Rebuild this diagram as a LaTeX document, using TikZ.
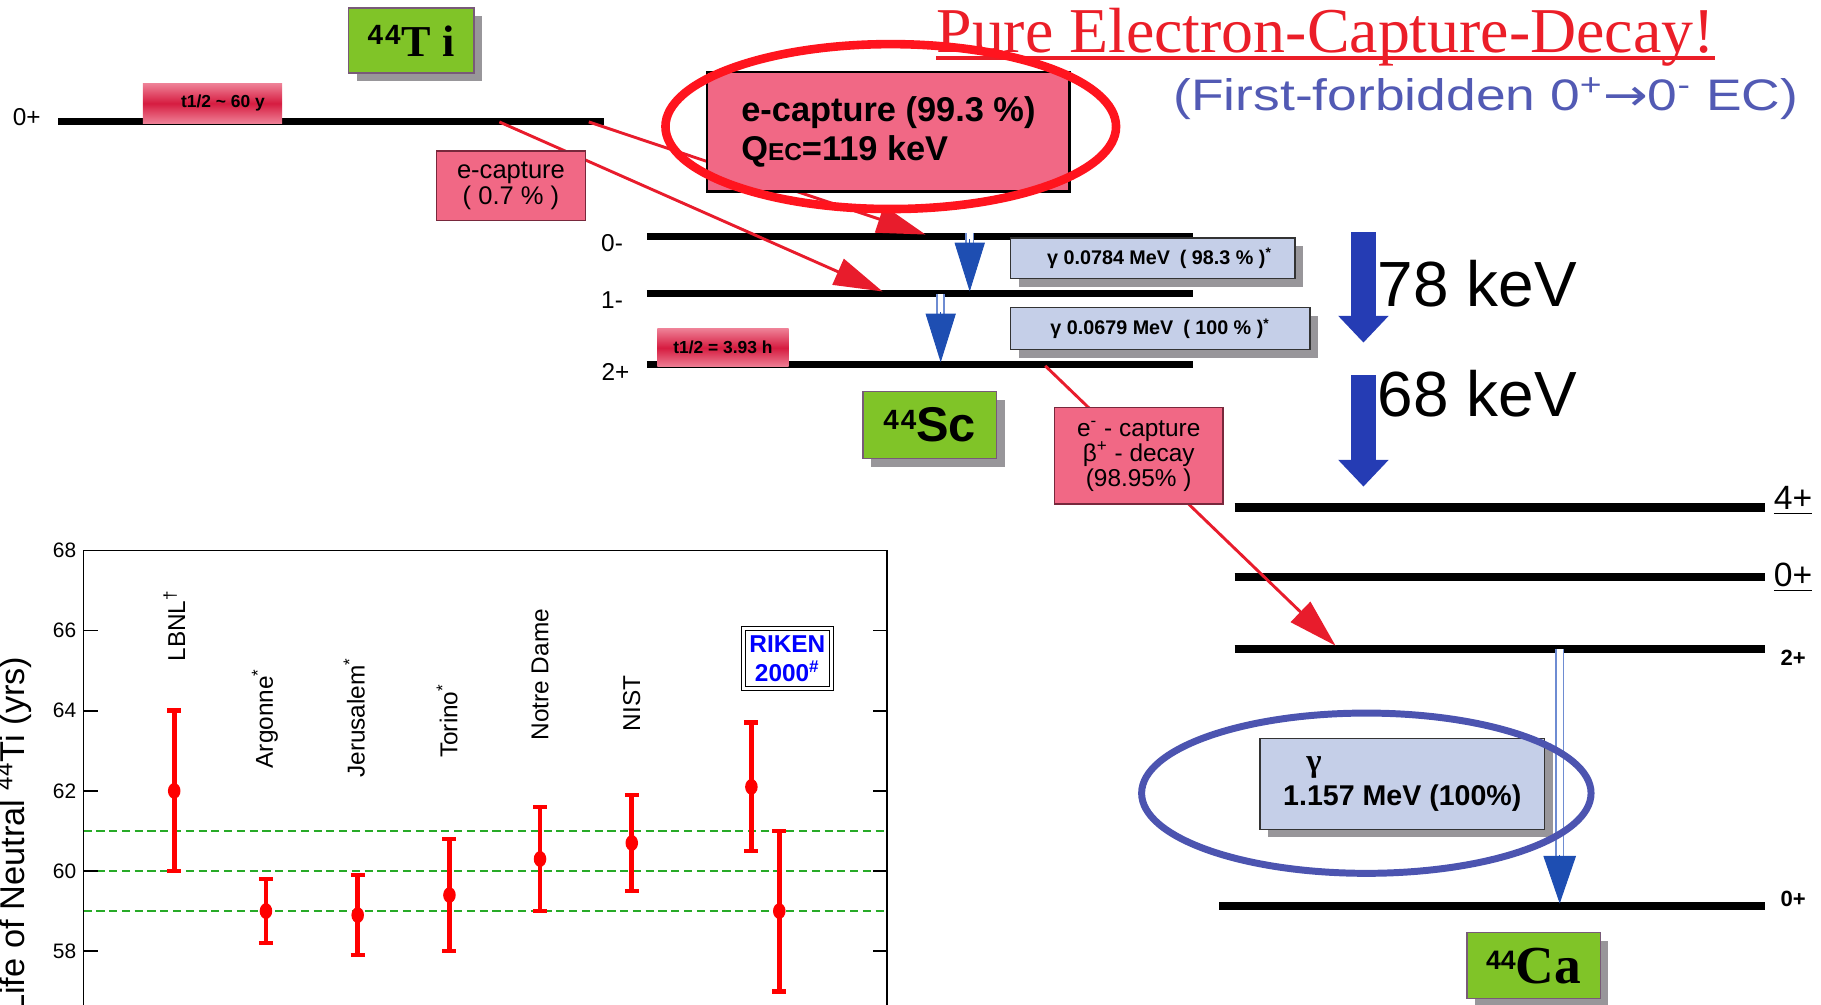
\documentclass[tikz,border=0pt]{standalone}
\usepackage{fontspec}
\setmainfont{Liberation Serif}
\setsansfont{Liberation Sans}
\newfontfamily\arialf{Liberation Sans}
\newfontfamily\tnrf{Liberation Serif}
\newfontfamily\dejavuf{DejaVu Sans}
\usetikzlibrary{arrows.meta, shapes.geometric}
\newcommand\fsz[2]{\fontsize{#1}{#2}\selectfont}

\definecolor{boxgreen}{RGB}{128,196,40}
\definecolor{boxedge}{RGB}{120,90,120}
\definecolor{shadowgray}{RGB}{152,150,154}
\definecolor{boxpink}{RGB}{241,104,133}
\definecolor{pinkedge}{RGB}{120,40,60}
\definecolor{gboxblue}{RGB}{197,207,232}
\definecolor{arrowred}{RGB}{232,28,44}
\definecolor{ringred}{RGB}{255,20,30}
\definecolor{titlered}{RGB}{235,30,40}
\definecolor{ringblue}{RGB}{76,84,176}
\definecolor{subblue}{RGB}{82,90,180}
\definecolor{fatblue}{RGB}{37,60,180}
\definecolor{gammablue}{RGB}{30,78,178}
\definecolor{dblblue}{RGB}{110,140,210}
\definecolor{plotred}{RGB}{255,0,0}
\definecolor{dashgreen}{RGB}{40,170,40}
\definecolor{crimson}{RGB}{214,28,64}
\definecolor{crimsonlight}{RGB}{238,128,150}

\tikzset{
  level/.style={draw=black, line width=3pt},
  calevel/.style={draw=black, line width=3.5pt},
  lvllabel/.style={font=\arialf\fsz{10.5}{12}, inner sep=0pt},
  shadowed/.style={preaction={fill=shadowgray, transform canvas={shift={(3.5pt,-3.5pt)}}}},
  nuclide/.style={shadowed, fill=boxgreen, draw=boxedge, line width=0.6pt, inner sep=0pt,
    minimum width=57.5pt, minimum height=29pt},
  halflife/.style={top color=crimsonlight, bottom color=crimsonlight, middle color=crimson,
    inner sep=0pt, font=\arialf\bfseries\fsz{7.5}{9}},
  capbox/.style={fill=boxpink, draw=pinkedge, line width=0.6pt, inner sep=0pt, align=center},
  gammabox/.style={shadowed, fill=gboxblue, draw=black!80, line width=0.6pt, inner sep=0pt},
  decay/.style={draw=arrowred, line width=1.25pt, -{Triangle[length=21pt,width=12pt]}},
  gdouble/.style={draw=dblblue, line width=0.7pt, double=white, double distance=2.4pt},
  gtip/.style={draw=gammablue, fill=gammablue, line width=0.4pt, -{Triangle[length=21pt,width=13pt]}},
  fatarrow/.style={draw=fatblue, line width=11pt, -{Triangle[length=11.5pt,width=21pt]}},
  frame/.style={draw=black, line width=0.75pt},
  refline/.style={draw=dashgreen, line width=0.6pt, dash pattern=on 3.5pt off 2pt},
  errbar/.style={draw=plotred, line width=2pt},
  ticklabel/.style={font=\arialf\fsz{9}{10}, inner sep=0pt, anchor=east},
  lablabel/.style={font=\arialf\fsz{10.5}{12}, inner sep=0pt, rotate=90, anchor=west},
}

\begin{document}
\begin{tikzpicture}[x=0.5pt, y=-0.5pt]
\useasboundingbox (0,0) rectangle (1568,865);
\clip (0,0) rectangle (1568,865);

% ---------------- 44Ti ground state ----------------
\coordinate (ti0L) at (50,105);
\coordinate (ti0R) at (520,105);
\draw[level] (ti0L) -- (ti0R);
\node[lvllabel] (lti0) at (23,101) {0+};

% ---------------- 44Sc levels ----------------
\coordinate (sc0mL) at (557,204);  \coordinate (sc0mR) at (1027,204);
\coordinate (sc1mL) at (557,253);  \coordinate (sc1mR) at (1027,253);
\coordinate (sc2pL) at (557,314);  \coordinate (sc2pR) at (1027,314);
\draw[level] (sc0mL) -- (sc0mR);
\draw[level] (sc1mL) -- (sc1mR);
\draw[level] (sc2pL) -- (sc2pR);
\node[lvllabel] (lsc0) at (527,209) {0-};
\node[lvllabel] (lsc1) at (527,258) {1-};
\node[lvllabel] (lsc2) at (530,320) {2+};

% ---------------- 44Ca levels ----------------
\coordinate (ca4L) at (1063,437);  \coordinate (ca4R) at (1520,437);
\coordinate (ca0eL) at (1063,497); \coordinate (ca0eR) at (1520,497);
\coordinate (ca2L) at (1063,559);  \coordinate (ca2R) at (1520,559);
\coordinate (ca0L) at (1050,780);  \coordinate (ca0R) at (1520,780);
\draw[calevel] (ca4L) -- (ca4R);
\draw[calevel] (ca0eL) -- (ca0eR);
\draw[calevel] (ca2L) -- (ca2R);
\draw[calevel] (ca0L) -- (ca0R);
\node[font=\arialf\fsz{14.5}{15}, inner sep=0pt] (lca4) at (1544,431) {\underline{4+}};
\node[font=\arialf\fsz{14.5}{15}, inner sep=0pt] (lca0e) at (1544,497) {\underline{0+}};
\node[font=\arialf\bfseries\fsz{9.5}{11}, inner sep=0pt] (lca2) at (1544,566) {2+};
\node[font=\arialf\bfseries\fsz{9.5}{11}, inner sep=0pt] (lca0) at (1544,774) {0+};

% ---------------- decay branches ----------------
\coordinate (ecA) at (430,105);  \coordinate (ecAend) at (760,251);
\coordinate (ecB) at (507,105);  \coordinate (ecBend) at (797,202);
\coordinate (ecC) at (900,315);  \coordinate (ecCend) at (1150,556);
\draw[decay] (ecA) -- (ecAend);
\draw[decay] (ecB) -- (ecBend);
\draw[decay] (ecC) -- (ecCend);

% half-life tags
\node[halflife, minimum width=60pt, minimum height=17pt] (hlti) at (183,89)
  {\hspace*{9pt}t1/2 \textasciitilde{} 60 y};
\node[halflife, minimum width=56.5pt, minimum height=16.5pt] (hlsc) at (622.5,299.5)
  {t1/2 = 3.93 h};

% nuclide tags
\node[nuclide, minimum width=54pt, minimum height=28pt] (nti) at (354,35)
  {\raisebox{5pt}{\arialf\bfseries\fsz{12}{12}4\kern0.8pt4}\kern0.5pt{\tnrf\bfseries\fsz{19}{19}T i}};
\node[nuclide] (nsc) at (800.5,366)
  {\raisebox{5.5pt}{\arialf\bfseries\fsz{12}{12}4\kern0.8pt4}{\arialf\bfseries\fsz{21}{21}Sc}};
\node[nuclide, minimum height=28.5pt] (nca) at (1320.5,831.5)
  {\raisebox{6pt}{\arialf\bfseries\fsz{11.5}{11.5}44}{\tnrf\bfseries\fsz{23}{23}Ca}};

% electron-capture boxes
\node[capbox, minimum width=64pt, minimum height=30pt, font=\arialf\fsz{11}{11.5}] (ec07) at (440,160)
  {e-capture\\( 0.7 \% )};
\node[capbox, draw=black, line width=1pt, minimum width=156pt, minimum height=51.5pt,
      align=left, font=\arialf\bfseries\fsz{14.8}{17}] (ec993) at (765,113.5)
  {e-capture (99.3 \%)\\Q{\fsz{10.5}{10}EC}=119 keV};
\node[capbox, minimum width=72.5pt, minimum height=41.5pt, font=\arialf\fsz{10.5}{10.8}] (ecbeta) at (980.5,392.5)
  {e\textsuperscript{-} - capture\\β\textsuperscript{+} - decay\\(98.95\% )};

% gamma boxes
\node[gammabox, minimum width=122.5pt, minimum height=17.5pt, font=\arialf\bfseries\fsz{8.5}{10}] (g784) at (992.5,222.5)
  {\hspace*{6pt}γ\ 0.0784 MeV\enspace( 98.3 \% )\textsuperscript{*}};
\node[gammabox, minimum width=129pt, minimum height=18pt, font=\arialf\bfseries\fsz{8.5}{10}] (g679) at (999,283)
  {γ\ 0.0679 MeV\enspace( 100 \% )\textsuperscript{*}};
\node[gammabox, minimum width=122.5pt, minimum height=39pt, align=left,
      font=\arialf\bfseries\fsz{12.3}{14.5}] (g1157) at (1207.5,675)
  {\hspace*{10pt}{\tnrf\fsz{14}{14}γ}\\1.157 MeV (100\%)};

% gamma transitions
\coordinate (gAtop) at (835,201);  \coordinate (gAmid) at (835,212);
\coordinate (gAhead) at (835,206); \coordinate (gAend) at (835,251);
\coordinate (gBtop) at (810,253);  \coordinate (gBmid) at (810,276);
\coordinate (gBhead) at (810,269); \coordinate (gBend) at (810,312);
\coordinate (gCtop) at (1343,559); \coordinate (gCmid) at (1343,745);
\coordinate (gChead) at (1343,736);\coordinate (gCend) at (1343,778);
\draw[gdouble] (gAtop) -- (gAmid);
\draw[gtip] (gAhead) -- (gAend);
\draw[gdouble] (gBtop) -- (gBmid);
\draw[gtip] (gBhead) -- (gBend);
\draw[gdouble] (gCtop) -- (gCmid);
\draw[gtip, -{Triangle[length=20.5pt,width=14pt]}] (gChead) -- (gCend);

% energy arrows
\coordinate (fa1) at (1174,200); \coordinate (fa1e) at (1174,295);
\coordinate (fa2) at (1174,323); \coordinate (fa2e) at (1174,419);
\draw[fatarrow] (fa1) -- (fa1e);
\draw[fatarrow] (fa2) -- (fa2e);
\node[anchor=base west, inner sep=0pt, font=\arialf\fsz{27.5}{30}] (e78) at (1186,263.5) {78 keV};
\node[anchor=base west, inner sep=0pt, font=\arialf\fsz{27.5}{30}] (e68) at (1186,359) {68 keV};

% headings
\node[anchor=base west, inner sep=0pt, text=titlered] (title) at (806,45)
  {\tnrf\fsz{27.5}{30}\resizebox{335pt}{\height}{Pure Electron-Capture-Decay!}};
\draw[titlered, line width=1.5pt] ([yshift=-2.5pt]title.base west) -- ([yshift=-2.5pt]title.base east);
\node[anchor=west, inner sep=0pt, text=subblue] (subtitle) at (1010,85)
  {\arialf\fsz{19}{22}\resizebox{269pt}{\height}{(First-forbidden 0\textsuperscript{+}{\dejavuf →}0\textsuperscript{-} EC)}};

% highlight rings
\node[draw=ringred, line width=3.7pt, ellipse, minimum width=194pt, minimum height=71pt, inner sep=0pt] (ringA) at (767,109) {};
\node[draw=ringblue, line width=3pt, ellipse, minimum width=193.5pt, minimum height=69pt, inner sep=0pt] (ringB) at (1176.5,683) {};

% ---------------- half-life measurements ----------------
\node[rotate=90, anchor=base east, inner sep=0pt, font=\arialf\fsz{14.8}{18}] (ylab) at (21,565)
  {Life of Neutral \textsuperscript{44}Ti (yrs)};

\begin{scope}[y=17.25pt, yshift=-237pt]
  \foreach \v in {-7,-8,-9}
    \draw[refline] (72,\v) -- (764,\v);
  \draw[frame] (72,-14) -- (72,0) -- (764,0) -- (764,-14);
  \foreach \v/\t in {0/68,-2/66,-4/64,-6/62,-8/60,-10/58} {
    \draw[frame] (72,\v) -- (84,\v);
    \draw[frame] (764,\v) -- (752,\v);
    \node[ticklabel] (tk\t) at (66,\v) {\t};
  }
  \foreach \x/\m/\lo/\hi in {150/62.0/60.0/64.0, 229/59.0/58.2/59.8, 308/58.9/57.9/59.9,
      387/59.4/58.0/60.8, 465/60.3/59.0/61.6, 544/60.7/59.5/61.9,
      647/62.1/60.5/63.7, 671/59.0/57.0/61.0} {
    \draw[errbar] (\x,\lo-68) -- (\x,\hi-68);
    \draw[errbar] (\x-6,\lo-68) -- (\x+6,\lo-68);
    \draw[errbar] (\x-6,\hi-68) -- (\x+6,\hi-68);
    \fill[plotred] (\x,\m-68) ellipse [x radius=2.7pt, y radius=3.4pt];
  }
\end{scope}

\node[lablabel] (labLBNL) at (150,570) {LBNL\textsuperscript{†}};
\node[lablabel] (labArg) at (228,662) {Argonne\textsuperscript{*}};
\node[lablabel] (labJer) at (305,670) {Jerusalem\textsuperscript{*}};
\node[lablabel] (labTor) at (385,653) {Torino\textsuperscript{*}};
\node[lablabel] (labND) at (465,638) {Notre Dame};
\node[lablabel] (labNIST) at (544,630) {NIST};
\node[draw=black, line width=0.5pt, double, double distance=1.2pt, fill=white,
      minimum width=38pt, minimum height=26pt, inner sep=0pt, align=center,
      text=blue, font=\arialf\bfseries\fsz{10.5}{12.5}] (riken) at (678,567)
  {RIKEN\\2000\textsuperscript{\#}};
\end{tikzpicture}
\end{document}
